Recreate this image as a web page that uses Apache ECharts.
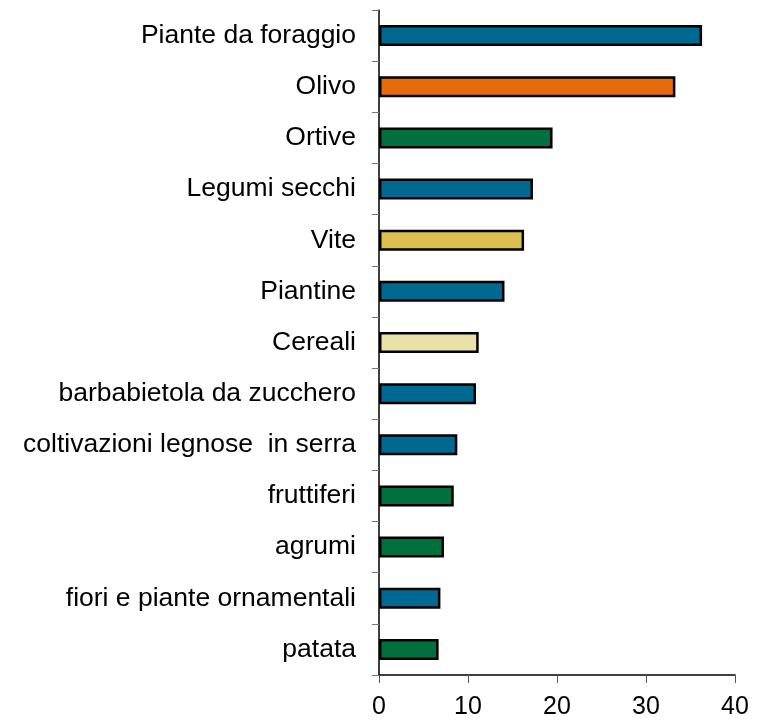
<!DOCTYPE html>
<html>
<head>
<meta charset="utf-8">
<script src="https://cdn.jsdelivr.net/npm/echarts@6/dist/echarts.min.js"></script>
<style>
  html, body { margin: 0; padding: 0; background: #fff; }
  #chart { width: 760px; height: 720px; }
</style>
</head>
<body>
<div id="chart"></div>
<script>
// categories, top to bottom
const categories = [
  'Piante da foraggio', 'Olivo', 'Ortive', 'Legumi secchi', 'Vite', 'Piantine',
  'Cereali', 'barbabietola da zucchero', 'coltivazioni legnose  in serra',
  'fruttiferi', 'agrumi', 'fiori e piante ornamentali', 'patata'
]
const values = [36.3, 33.3, 19.5, 17.3, 16.3, 14.1, 11.2, 10.9, 8.8, 8.4, 7.3, 6.9, 6.7]
const groups = ['blue', 'orange', 'green', 'blue', 'gold', 'blue', 'pale', 'blue', 'blue', 'green', 'green', 'blue', 'green']
const xTicks = [0, 10, 20, 30, 40]

const palette = {
  blue: '#006991',
  orange: '#e46c0a',
  green: '#00703c',
  gold: '#dbbf50',
  pale: '#e9e1a6'
}

const myChart = echarts.init(document.getElementById('chart'), null, { renderer: 'canvas' })

const options = {
  animation: false,
  grid: { left: 379, right: 25, top: 10, bottom: 45, containLabel: false },
  xAxis: {
    type: 'value',
    min: xTicks[0],
    max: xTicks[xTicks.length - 1],
    interval: 10,
    splitLine: { show: false },
    axisLine: { show: true, lineStyle: { color: '#000', width: 1.5 } },
    axisTick: { show: true, length: 8, lineStyle: { color: '#555' } },
    axisLabel: {
      color: '#000',
      fontFamily: 'Liberation Sans, Arial, sans-serif',
      fontSize: 25,
      margin: 20
    }
  },
  yAxis: {
    type: 'category',
    inverse: true,
    data: categories,
    axisLine: { show: true, lineStyle: { color: '#000', width: 1.5 } },
    axisTick: { show: true, length: 7, lineStyle: { color: '#777' } },
    axisLabel: {
      color: '#000',
      fontFamily: 'Liberation Sans, Arial, sans-serif',
      fontSize: 26.5,
      margin: 23
    }
  },
  series: [
    {
      type: 'bar',
      barWidth: 21,
      data: values.map((v, i) => ({
        value: v,
        itemStyle: { color: palette[groups[i]] }
      })),
      itemStyle: { borderColor: '#000', borderWidth: 2.5 }
    }
  ]
}
myChart.setOption(options)
</script>
</body>
</html>
